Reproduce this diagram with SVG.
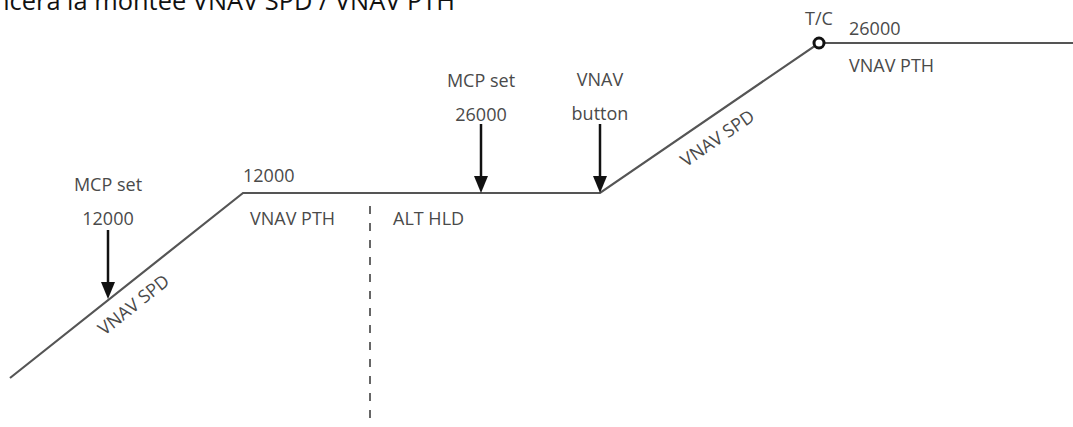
<svg xmlns="http://www.w3.org/2000/svg" width="1073" height="427" viewBox="0 0 1073 427">
<style>
.lbl{font-family:"Open Sans","Liberation Sans",sans-serif;font-size:18px;fill:#4a4a4a}
.mid{text-anchor:middle}
.path{fill:none;stroke:#555;stroke-width:2.2;stroke-linejoin:miter}
.arr{stroke:#111;stroke-width:2.5;fill:none}
.head{fill:#111}
</style>
<rect width="1073" height="427" fill="#fff"/>
<text x="-6" y="10" style="font-family:'Open Sans','Liberation Sans',sans-serif;font-size:25px;fill:#111" textLength="461" lengthAdjust="spacingAndGlyphs">ncera la montée VNAV SPD / VNAV PTH</text>
<g id="connectors">
<polyline class="path" points="10,378 243,193 600,193 819,43 1073,43"/>
<line x1="370" y1="206" x2="370" y2="427" stroke="#666" stroke-width="2" stroke-dasharray="8 9"/>
<line class="arr" x1="108" y1="230" x2="108" y2="286"/>
<path class="head" d="M101,282 L115,282 L108,299 Z"/>
<line class="arr" x1="481" y1="124" x2="481" y2="180"/>
<path class="head" d="M474,176 L488,176 L481,193 Z"/>
<line class="arr" x1="600" y1="124" x2="600" y2="180"/>
<path class="head" d="M593,176 L607,176 L600,193 Z"/>
</g>
<g id="tc">
<circle cx="819" cy="43" r="5" fill="#fff" stroke="#111" stroke-width="3"/>
<text class="lbl mid" x="819" y="25">T/C</text>
</g>
<g id="mcp12000">
<text class="lbl mid" x="108" y="191">MCP set</text>
<text class="lbl mid" x="108" y="225">12000</text>
</g>
<g id="alt12000">
<text class="lbl" x="243" y="182">12000</text>
<text class="lbl" x="250" y="225">VNAV PTH</text>
</g>
<g id="althld">
<text class="lbl" x="393" y="225">ALT HLD</text>
</g>
<g id="mcp26000">
<text class="lbl mid" x="481" y="87">MCP set</text>
<text class="lbl mid" x="481" y="121">26000</text>
</g>
<g id="vnavbtn">
<text class="lbl mid" x="600" y="86">VNAV</text>
<text class="lbl mid" x="600" y="120">button</text>
</g>
<g id="alt26000">
<text class="lbl" x="849" y="35">26000</text>
<text class="lbl" x="849" y="72">VNAV PTH</text>
</g>
<g id="spd1">
<text class="lbl mid" transform="translate(137.5,309.7) rotate(-38.4)">VNAV SPD</text>
</g>
<g id="spd2">
<text class="lbl mid" transform="translate(721,143.3) rotate(-34.6)">VNAV SPD</text>
</g>
</svg>
